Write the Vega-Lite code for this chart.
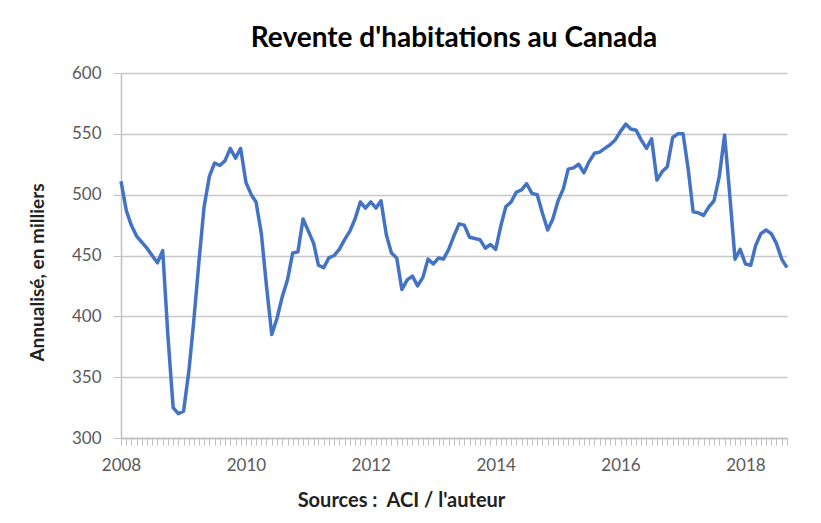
{
  "$schema": "https://vega.github.io/schema/vega-lite/v6.json",
  "width": 666,
  "height": 365,
  "autosize": "none",
  "padding": {"left": 121, "top": 73, "right": 34, "bottom": 85},
  "background": "white",
  "config": {"view": {"stroke": null}, "font": "Lato"},
  "title": {"text": "Revente d'habitations au Canada", "fontSize": 28, "fontWeight": "bold", "color": "#000000", "anchor": "middle", "offset": 11, "font": "Lato"},
  "data": {"values": [
    {"date": "2008-01-01", "ventes": 511}, {"date": "2008-02-01", "ventes": 487}, {"date": "2008-03-01", "ventes": 475}, {"date": "2008-04-01", "ventes": 466},
    {"date": "2008-05-01", "ventes": 461}, {"date": "2008-06-01", "ventes": 456}, {"date": "2008-07-01", "ventes": 450}, {"date": "2008-08-01", "ventes": 444},
    {"date": "2008-09-01", "ventes": 454}, {"date": "2008-10-01", "ventes": 385}, {"date": "2008-11-01", "ventes": 325}, {"date": "2008-12-01", "ventes": 320},
    {"date": "2009-01-01", "ventes": 322}, {"date": "2009-02-01", "ventes": 355}, {"date": "2009-03-01", "ventes": 395}, {"date": "2009-04-01", "ventes": 445},
    {"date": "2009-05-01", "ventes": 490}, {"date": "2009-06-01", "ventes": 515}, {"date": "2009-07-01", "ventes": 526}, {"date": "2009-08-01", "ventes": 524},
    {"date": "2009-09-01", "ventes": 528}, {"date": "2009-10-01", "ventes": 538}, {"date": "2009-11-01", "ventes": 530}, {"date": "2009-12-01", "ventes": 538},
    {"date": "2010-01-01", "ventes": 510}, {"date": "2010-02-01", "ventes": 500}, {"date": "2010-03-01", "ventes": 494}, {"date": "2010-04-01", "ventes": 468},
    {"date": "2010-05-01", "ventes": 425}, {"date": "2010-06-01", "ventes": 385}, {"date": "2010-07-01", "ventes": 398}, {"date": "2010-08-01", "ventes": 416},
    {"date": "2010-09-01", "ventes": 430}, {"date": "2010-10-01", "ventes": 452}, {"date": "2010-11-01", "ventes": 453}, {"date": "2010-12-01", "ventes": 480},
    {"date": "2011-01-01", "ventes": 470}, {"date": "2011-02-01", "ventes": 460}, {"date": "2011-03-01", "ventes": 442}, {"date": "2011-04-01", "ventes": 440},
    {"date": "2011-05-01", "ventes": 448}, {"date": "2011-06-01", "ventes": 450}, {"date": "2011-07-01", "ventes": 455}, {"date": "2011-08-01", "ventes": 463},
    {"date": "2011-09-01", "ventes": 470}, {"date": "2011-10-01", "ventes": 480}, {"date": "2011-11-01", "ventes": 494}, {"date": "2011-12-01", "ventes": 489},
    {"date": "2012-01-01", "ventes": 494}, {"date": "2012-02-01", "ventes": 489}, {"date": "2012-03-01", "ventes": 495}, {"date": "2012-04-01", "ventes": 467},
    {"date": "2012-05-01", "ventes": 452}, {"date": "2012-06-01", "ventes": 448}, {"date": "2012-07-01", "ventes": 422}, {"date": "2012-08-01", "ventes": 430},
    {"date": "2012-09-01", "ventes": 433}, {"date": "2012-10-01", "ventes": 425}, {"date": "2012-11-01", "ventes": 432}, {"date": "2012-12-01", "ventes": 447},
    {"date": "2013-01-01", "ventes": 443}, {"date": "2013-02-01", "ventes": 448}, {"date": "2013-03-01", "ventes": 447}, {"date": "2013-04-01", "ventes": 455},
    {"date": "2013-05-01", "ventes": 466}, {"date": "2013-06-01", "ventes": 476}, {"date": "2013-07-01", "ventes": 475}, {"date": "2013-08-01", "ventes": 465},
    {"date": "2013-09-01", "ventes": 464}, {"date": "2013-10-01", "ventes": 463}, {"date": "2013-11-01", "ventes": 456}, {"date": "2013-12-01", "ventes": 459},
    {"date": "2014-01-01", "ventes": 455}, {"date": "2014-02-01", "ventes": 475}, {"date": "2014-03-01", "ventes": 490}, {"date": "2014-04-01", "ventes": 494},
    {"date": "2014-05-01", "ventes": 502}, {"date": "2014-06-01", "ventes": 504}, {"date": "2014-07-01", "ventes": 509}, {"date": "2014-08-01", "ventes": 501},
    {"date": "2014-09-01", "ventes": 500}, {"date": "2014-10-01", "ventes": 485}, {"date": "2014-11-01", "ventes": 471}, {"date": "2014-12-01", "ventes": 480},
    {"date": "2015-01-01", "ventes": 495}, {"date": "2015-02-01", "ventes": 505}, {"date": "2015-03-01", "ventes": 521}, {"date": "2015-04-01", "ventes": 522},
    {"date": "2015-05-01", "ventes": 525}, {"date": "2015-06-01", "ventes": 518}, {"date": "2015-07-01", "ventes": 527}, {"date": "2015-08-01", "ventes": 534},
    {"date": "2015-09-01", "ventes": 535}, {"date": "2015-10-01", "ventes": 538}, {"date": "2015-11-01", "ventes": 541}, {"date": "2015-12-01", "ventes": 545},
    {"date": "2016-01-01", "ventes": 552}, {"date": "2016-02-01", "ventes": 558}, {"date": "2016-03-01", "ventes": 554}, {"date": "2016-04-01", "ventes": 553},
    {"date": "2016-05-01", "ventes": 545}, {"date": "2016-06-01", "ventes": 538}, {"date": "2016-07-01", "ventes": 546}, {"date": "2016-08-01", "ventes": 512},
    {"date": "2016-09-01", "ventes": 519}, {"date": "2016-10-01", "ventes": 523}, {"date": "2016-11-01", "ventes": 547}, {"date": "2016-12-01", "ventes": 550},
    {"date": "2017-01-01", "ventes": 550}, {"date": "2017-02-01", "ventes": 520}, {"date": "2017-03-01", "ventes": 486}, {"date": "2017-04-01", "ventes": 485},
    {"date": "2017-05-01", "ventes": 483}, {"date": "2017-06-01", "ventes": 490}, {"date": "2017-07-01", "ventes": 495}, {"date": "2017-08-01", "ventes": 515},
    {"date": "2017-09-01", "ventes": 549}, {"date": "2017-10-01", "ventes": 500}, {"date": "2017-11-01", "ventes": 447}, {"date": "2017-12-01", "ventes": 455},
    {"date": "2018-01-01", "ventes": 443}, {"date": "2018-02-01", "ventes": 442}, {"date": "2018-03-01", "ventes": 458}, {"date": "2018-04-01", "ventes": 468},
    {"date": "2018-05-01", "ventes": 471}, {"date": "2018-06-01", "ventes": 468}, {"date": "2018-07-01", "ventes": 460}, {"date": "2018-08-01", "ventes": 447},
    {"date": "2018-09-01", "ventes": 440}
  ]},
  "layer": [
    {
      "mark": {"type": "line", "color": "#4472C4", "strokeWidth": 3.5, "strokeJoin": "round"},
      "encoding": {
        "x": {
          "field": "date", "type": "temporal",
          "scale": {"type": "utc", "domain": [{"year": 2008, "month": 1, "date": 1, "utc": true}, {"year": 2018, "month": 9, "date": 1, "utc": true}]},
          "axis": {"orient": "bottom", "title": null, "labels": false, "grid": false, "tickCount": {"interval": "month", "step": 1}, "tickSize": 7, "tickColor": "#c0c0c0", "tickWidth": 1, "domainColor": "#c0c0c0", "domainWidth": 1.5}
        },
        "y": {
          "field": "ventes", "type": "quantitative",
          "scale": {"domain": [300, 600]},
          "axis": {"title": "Annualisé, en milliers", "values": [300, 350, 400, 450, 500, 550, 600], "grid": true, "gridColor": "#c8c8c8", "gridWidth": 1.5, "domainColor": "#c0c0c0", "domainWidth": 1.5, "tickColor": "#c0c0c0", "tickSize": 8, "labelFontSize": 17, "labelColor": "#595959", "labelPadding": 12, "titleFontSize": 19, "titleFontWeight": "bold", "titleColor": "#222222", "titleAngle": -90, "titleX": -84, "titleY": 199, "titleAlign": "center", "titleBaseline": "middle"}
        }
      }
    },
    {
      "mark": {"type": "line", "opacity": 0},
      "encoding": {
        "x": {
          "field": "date", "type": "temporal",
          "axis": {"orient": "bottom", "values": [{"year": 2008, "month": 1, "date": 1, "utc": true}, {"year": 2010, "month": 1, "date": 1, "utc": true}, {"year": 2012, "month": 1, "date": 1, "utc": true}, {"year": 2014, "month": 1, "date": 1, "utc": true}, {"year": 2016, "month": 1, "date": 1, "utc": true}, {"year": 2018, "month": 1, "date": 1, "utc": true}], "format": "%Y", "formatType": "utc", "ticks": false, "tickSize": 0, "domain": false, "grid": false, "labelFontSize": 17, "labelColor": "#595959", "labelPadding": 19, "labelFlush": false, "title": "Sources :\u00a0\u00a0ACI / l'auteur", "titleFontSize": 20, "titleFontWeight": "bold", "titleColor": "#222222", "titleX": 280, "titleY": 62, "titleAlign": "center", "titleBaseline": "middle"}
        },
        "y": {"field": "ventes", "type": "quantitative"}
      }
    }
  ],
  "resolve": {"axis": {"x": "independent"}}
}
